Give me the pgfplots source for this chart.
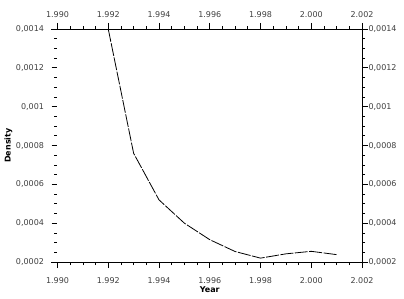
\documentclass[border=0pt]{standalone}
\usepackage{fontspec}
\setmainfont{DejaVu Sans}
\usepackage{pgfplots}
\pgfplotsset{compat=1.18}
\pgfplotsset{
  myax/.style={
    scale only axis,
    width=304.5pt, height=233pt,
    xmin=1990, xmax=2002,
    ymin=0.0002, ymax=0.0014,
    scaled y ticks=false, scaled x ticks=false,
    xtick={1990,1992,1994,1996,1998,2000,2002},
    xticklabels={1.990,1.992,1.994,1.996,1.998,2.000,2.002},
    ytick={0.0002,0.0004,0.0006,0.0008,0.001,0.0012,0.0014},
    yticklabels={{0,0002},{0,0004},{0,0006},{0,0008},{0,001},{0,0012},{0,0014}},
    axis line style={draw=none},
    ticklabel style={font=\fontsize{8}{9}\selectfont, text=black!75},
  }
}
\begin{document}
\begin{tikzpicture}
\begin{axis}[
  myax,
  name=ax,
  minor x tick num=3,
  minor y tick num=3,
  xtick pos=both, ytick pos=both,
  xticklabel pos=lower, yticklabel pos=lower,
  tick align=outside,
  major tick length=6pt,
  minor tick length=3pt,
  tick style={black, line width=0.7pt},
  xticklabel style={yshift=-6.5pt},
  yticklabel style={xshift=-4pt},
  xlabel={\textbf{Year}},
  ylabel={\textbf{Density}},
  label style={font=\fontsize{8}{9}\selectfont},
  xlabel style={at={(axis description cs:0.5,0)}, anchor=center, yshift=-28pt},
  ylabel style={at={(axis description cs:0,0.5)}, anchor=center, yshift=49pt},
]
\addplot[black, line width=0.8pt, dash pattern=on 13pt off 1.5pt] coordinates {
 (1992,0.00140) (1993,0.00076) (1994,0.00052) (1995,0.00040)
 (1996,0.000315) (1997,0.000254) (1998,0.000220) (1999,0.000242)
 (2000,0.000255) (2001,0.000238)
};
\end{axis}
\begin{axis}[
  myax,
  xticklabel pos=upper, yticklabel pos=upper,
  xtick pos=upper, ytick pos=upper,
  major tick length=0pt, minor tick length=0pt,
  tick style={draw=none},
  xticklabel style={yshift=8pt},
  yticklabel style={xshift=3pt},
]
\end{axis}
\draw[black, line width=0.7pt] ([xshift=-6pt]ax.south west) -- (ax.south east) -- (ax.north east) -- ([xshift=-6pt]ax.north west);
\path ([shift={(-57.5pt,-36pt)}]ax.south west) rectangle ++(404pt,298pt);
\end{tikzpicture}
\end{document}
